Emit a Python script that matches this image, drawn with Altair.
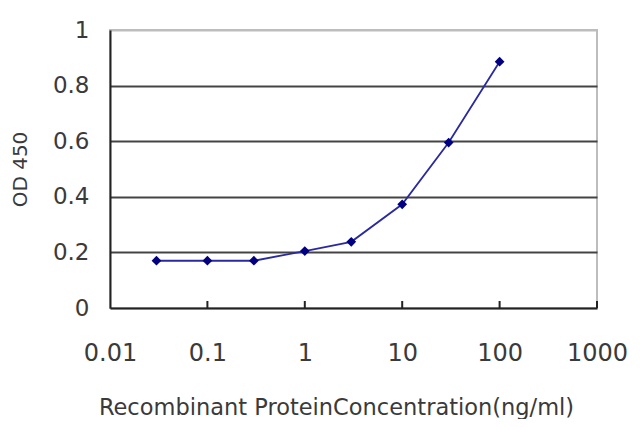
import altair as alt
import pandas as pd

concentration = [0.03, 0.1, 0.3, 1, 3, 10, 30, 100]
od450 = [0.170, 0.170, 0.170, 0.205, 0.238, 0.373, 0.595, 0.886]
x_ticks = [0.01, 0.1, 1, 10, 100, 1000]
x_inner_ticks = [0.1, 1, 10, 100, 1000]
y_ticks = [0, 0.2, 0.4, 0.6, 0.8, 1]

df = pd.DataFrame({"conc": concentration, "od": od450})
tick_df = pd.DataFrame({"conc": x_inner_ticks})

FONT = "DejaVu Sans"
TXT = "#3a3a3a"

x_enc = alt.X(
    "conc:Q",
    scale=alt.Scale(type="log", domain=[0.01, 1000]),
    axis=alt.Axis(
        values=x_ticks, format="~g", ticks=False, grid=False,
        domainColor="#222", domainWidth=2,
        labelFont=FONT, labelFontSize=24, labelColor=TXT,
        labelPadding=33, labelBaseline="top", labelFlush=False,
        title="Recombinant ProteinConcentration(ng/ml)",
        titleFont=FONT, titleFontSize=22.5, titleFontWeight="normal", titleColor=TXT,
        titleX=226, titleY=106, titleBaseline="alphabetic", titleAnchor="middle",
        titleAlign="center",
    ),
)
y_enc = alt.Y(
    "od:Q",
    scale=alt.Scale(domain=[0, 1], nice=False),
    axis=alt.Axis(
        values=y_ticks, format="~g", ticks=False,
        grid=True,
        gridColor={"condition": {"test": "datum.value == 1 || datum.value == 0", "value": "#bdbdbd"}, "value": "#444444"},
        gridWidth=2,
        domainColor="#222", domainWidth=2,
        labelFont=FONT, labelFontSize=23, labelColor=TXT, labelPadding=21,
        labelFlush=False,
        title="OD 450",
        titleFont=FONT, titleFontSize=20, titleFontWeight="normal", titleColor=TXT,
        titleX=-90, titleY=139, titleBaseline="middle", titleAlign="center",
        titleAngle=270,
    ),
)

line = alt.Chart(df).mark_line(color="#2a2aa0", strokeWidth=1.8).encode(x=x_enc, y=y_enc)
points = alt.Chart(df).mark_point(shape="diamond", filled=True, color="#000080", size=95, opacity=1).encode(
    x="conc:Q", y="od:Q"
)
ticks = alt.Chart(tick_df).mark_rule(color="#222", strokeWidth=2).encode(
    x="conc:Q", y=alt.value(278), y2=alt.value(271)
)

chart = (
    alt.layer(line, ticks, points)
    .properties(
        width=487, height=278,
        autosize=alt.AutoSizeParams(type="none"),
        padding={"left": 102, "top": 22, "right": 35, "bottom": 111},
        background="white",
    )
    .configure_view(stroke="#bdbdbd", strokeWidth=2)
)

chart.save("out.html", embed_options={"renderer": "svg", "actions": False})
